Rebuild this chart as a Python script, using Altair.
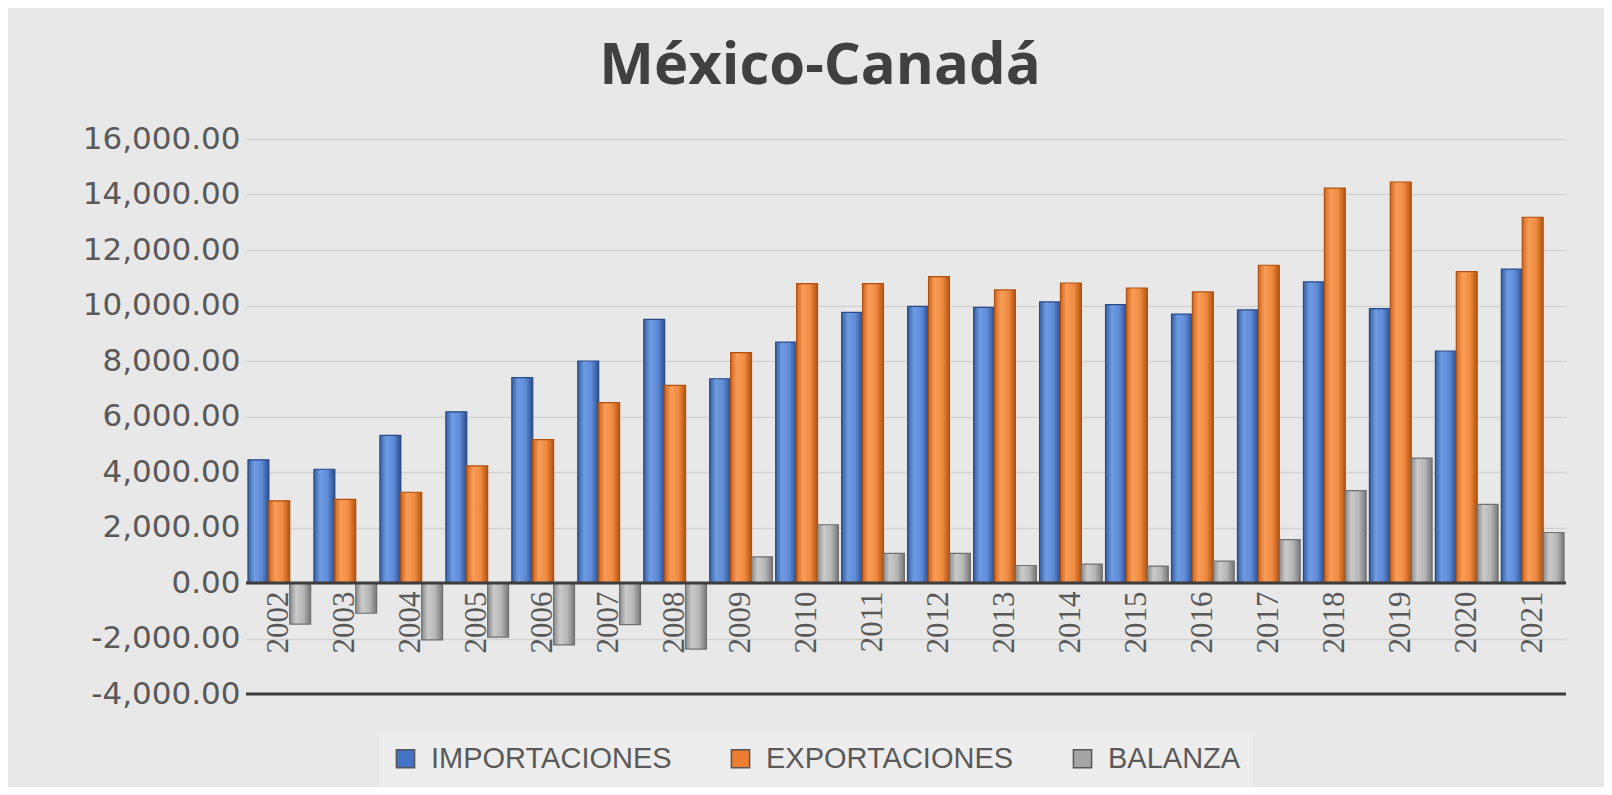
import altair as alt
import pandas as pd

years = [str(y) for y in range(2002, 2022)]
importaciones = [4440, 4100, 5320, 6170, 7400, 8000, 9500, 7360, 8680, 9750,
                 9970, 9930, 10130, 10030, 9690, 9840, 10850, 9890, 8360, 11310]
exportaciones = [2960, 3010, 3270, 4220, 5170, 6500, 7120, 8300, 10790, 10790,
                 11040, 10560, 10810, 10630, 10490, 11450, 14230, 14450, 11220, 13180]
balanza = [-1480, -1090, -2050, -1950, -2230, -1500, -2380, 940, 2100, 1070,
           1070, 630, 680, 610, 790, 1560, 3330, 4500, 2830, 1820]
series = ["IMPORTACIONES", "EXPORTACIONES", "BALANZA"]
flat_colors = ["#4472C4", "#ED7D31", "#A5A5A5"]
y_ticks = list(range(-4000, 16001, 2000))
base_lines = [0, -4000]

gradients = {
    "IMPORTACIONES": (["#35609f", "#6f9be3", "#5f8cd8", "#2c4f8f"], "#2a4a86"),
    "EXPORTACIONES": (["#d0661f", "#f99d58", "#f08b42", "#b4540f"], "#b05010"),
    "BALANZA": (["#8a8a8a", "#cacaca", "#b6b6b6", "#777777"], "#707070"),
}

rows = []
for name, vals in zip(series, [importaciones, exportaciones, balanza]):
    for yr, v in zip(years, vals):
        rows.append({"year": yr, "serie": name, "valor": v})
df = pd.DataFrame(rows)

W, H = 1320, 555
YMIN, YMAX = -4000, 16000

x_enc = alt.X(
    "year:N", sort=years,
    scale=alt.Scale(paddingInner=0.05, paddingOuter=0.03),
    axis=alt.Axis(title=None, labelAngle=270, labelFont="Liberation Sans Narrow",
                  labelFontSize=31, labelColor="#595959", domain=False, ticks=False,
                  labelPadding=8, offset=-H * (0 - YMIN) / (YMAX - YMIN)),
)
xo_enc = alt.XOffset("serie:N", sort=series, scale=alt.Scale(paddingInner=0))
y_enc = alt.Y(
    "valor:Q",
    scale=alt.Scale(domain=[YMIN, YMAX], nice=False),
    axis=alt.Axis(title=None, values=y_ticks,
                  labelExpr="replace(format(datum.value, ',.2f'), '\u2212', '-')",
                  labelFont="DejaVu Sans",
                  labelFontSize=31, labelColor="#595959", domain=False, ticks=False,
                  gridColor="#d2d2d2", gridWidth=1.5, labelPadding=6),
)

base = alt.Chart(df).mark_bar().encode(
    x=x_enc, xOffset=xo_enc, y=y_enc,
    color=alt.Color(
        "serie:N", sort=series,
        scale=alt.Scale(domain=series, range=flat_colors),
        legend=alt.Legend(title=None, orient="none", legendX=133, legendY=593,
                          direction="horizontal", symbolType="square", symbolSize=330,
                          symbolStrokeColor="#555555", symbolStrokeWidth=1.5,
                          labelFont="Liberation Sans", labelFontSize=29,
                          labelColor="#595959", labelOffset=11, columnPadding=54,
                          labelLimit=0, padding=12, fillColor="#ededed"),
    ),
)

layers = [base]
for name in series:
    cols, stroke = gradients[name]
    grad = alt.LinearGradient(
        gradient="linear",
        stops=[alt.GradientStop(offset=0, color=cols[0]),
               alt.GradientStop(offset=0.3, color=cols[1]),
               alt.GradientStop(offset=0.65, color=cols[2]),
               alt.GradientStop(offset=1, color=cols[3])],
        x1=0, x2=1, y1=0, y2=0,
    )
    layers.append(
        alt.Chart(df).transform_filter(alt.datum.serie == name)
        .mark_bar(fill=grad, stroke=stroke, strokeWidth=1.2)
        .encode(x=x_enc, xOffset=xo_enc, y=y_enc)
    )

rules = alt.Chart(pd.DataFrame({"valor": base_lines})).mark_rule(
    color="#3c3c3c", strokeWidth=3
).encode(y=y_enc)
layers.append(rules)

chart = alt.layer(*layers).properties(
    width=W, height=H,
    autosize=alt.AutoSizeParams(type="none"),
    padding={"left": 238, "top": 131, "right": 38, "bottom": 93},
    background="#e8e8e8",
    title=alt.TitleParams("México-Canadá", font="Open Sans", fontSize=58,
                          fontWeight="bold", color="#404040", anchor="middle",
                          dx=-86, offset=27),
).configure_view(stroke=None)

chart.save("out.html", embed_options={"renderer": "svg", "actions": False})
